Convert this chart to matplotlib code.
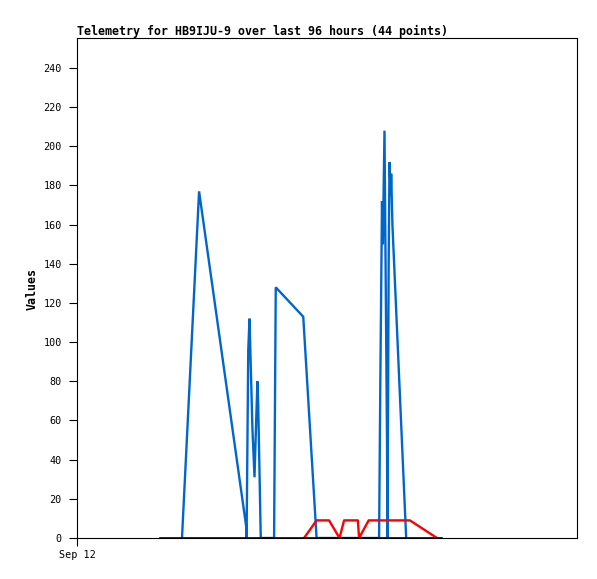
import matplotlib
matplotlib.use("Agg")
import matplotlib.pyplot as plt

# hours since Sep 12 00:00
blue_x = [25.2, 29.3, 40.6, 40.7, 41.1, 41.4, 42.1, 42.6, 43.0, 43.3, 43.5, 44.1,
          47.3, 47.7, 54.3, 57.5, 72.5, 72.8, 73.2, 73.4, 73.8, 74.4, 74.5, 74.8,
          75.0, 75.3, 75.4, 75.7, 79.0]
blue_y = [0, 177, 6, 0, 96, 112, 56, 31, 60, 80, 67, 0,
          0, 128, 113, 0, 0, 80, 172, 150, 208, 50, 0, 140,
          192, 175, 186, 160, 0]

red_x = [54.5, 57.5, 60.5, 63.0, 64.1, 67.4, 67.7, 70.0, 79.9, 86.4]
red_y = [0, 9, 9, 0, 9, 9, 0, 9, 9, 0]

black_x = [19.9, 87.4]
black_y = [0, 0]

yticks = list(range(0, 241, 20))
xtick_pos = [0]
xtick_labels = ["Sep 12"]
title = "Telemetry for HB9IJU-9 over last 96 hours (44 points)"

W, H = 597, 579
fig = plt.figure(figsize=(W / 100, H / 100), dpi=100)
ax = fig.add_axes([77 / W, 1 - 538 / H, 500 / W, 500 / H])

ax.plot(blue_x, blue_y, color="#0066CC", lw=1.7, solid_joinstyle="miter")
ax.plot(red_x, red_y, color="#FF0000", lw=1.7)
ax.plot(black_x, black_y, color="#000000", lw=1.9)

ax.set_xlim(0, 120)
ax.set_ylim(0, 255.3)
ax.set_yticks(yticks)
ax.set_xticks(xtick_pos)
ax.set_xticklabels(xtick_labels)

mono = "DejaVu Sans Mono"
for lab in ax.get_yticklabels() + ax.get_xticklabels():
    lab.set_fontfamily(mono)
    lab.set_fontsize(7.3)
ax.tick_params(axis="y", direction="out", length=6, width=0.8, pad=5)
ax.tick_params(axis="x", direction="out", length=6, width=0.8, pad=3)
for s in ax.spines.values():
    s.set_linewidth(0.8)

fig.text(77 / W, 1 - 31 / H, title, fontfamily=mono, fontweight="bold",
         fontsize=8.4, ha="left", va="center")
fig.text(32 / W, 1 - 289 / H, "Values", fontfamily=mono, fontweight="bold",
         fontsize=8.4, rotation=90, ha="center", va="center")

fig.savefig("out.png", dpi=100, facecolor="white")
